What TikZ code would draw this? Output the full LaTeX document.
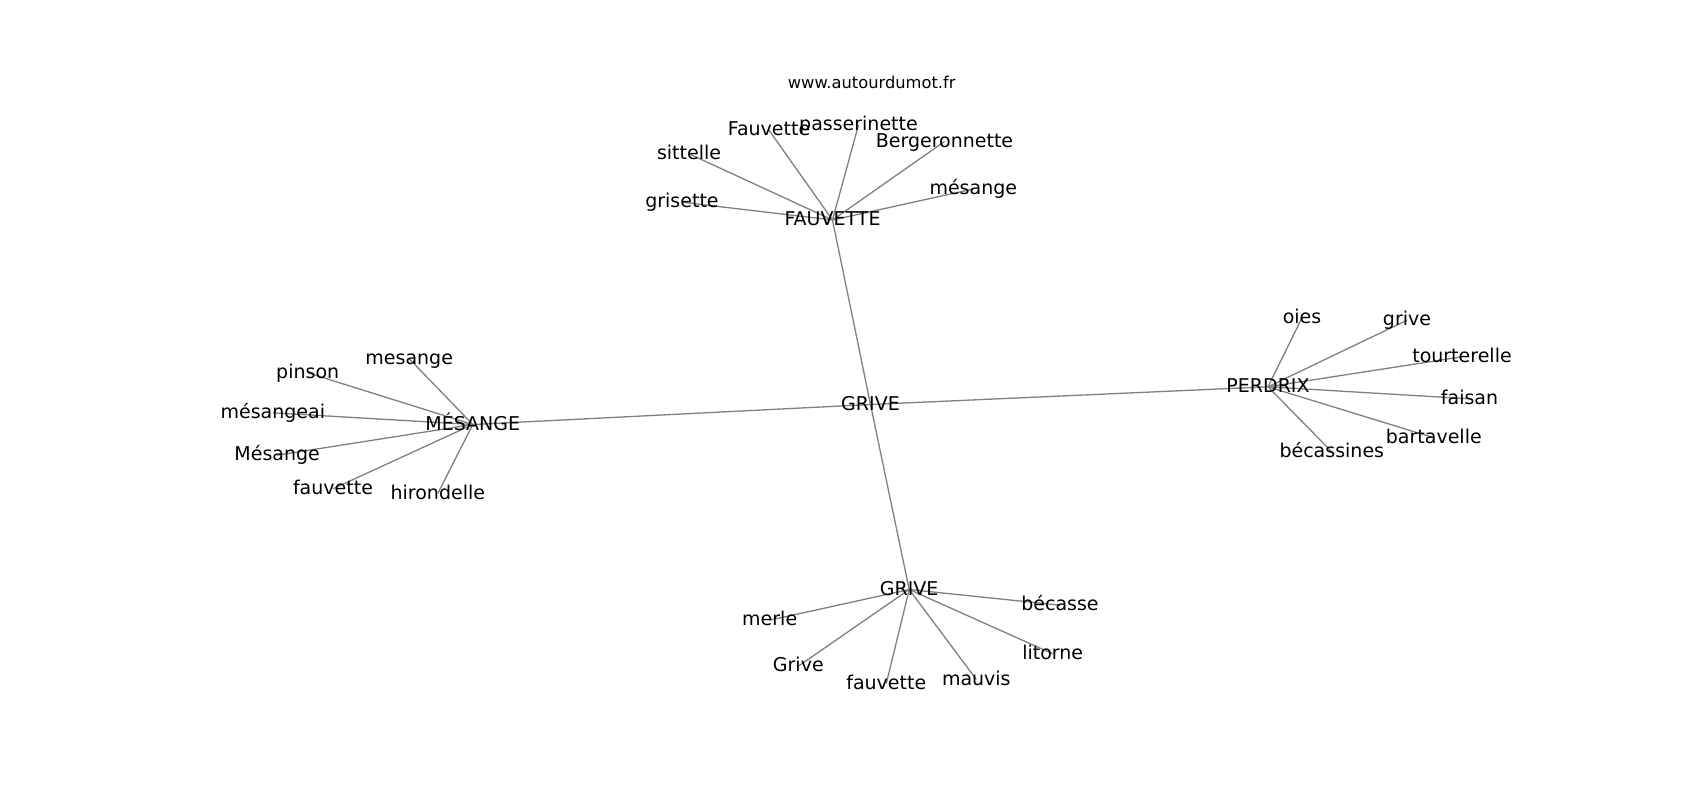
\documentclass[tikz,border=0pt]{standalone}
\usepackage{fontspec}
\setmainfont{DejaVu Sans}
\usetikzlibrary{backgrounds}
\tikzset{
  word/.style={font=\fontsize{19}{22}\selectfont, anchor=base, inner sep=0pt, outer sep=0pt, text=black},
  titletext/.style={font=\fontsize{16.3}{19}\selectfont, anchor=base, inner sep=0pt, text=black},
  link/.style={draw=gray, line width=1.3pt},
}
\newcommand{\hubto}[2]{\foreach \l in {#2} {\draw[link] ([yshift=5.5pt]#1.base) -- ([yshift=5.5pt]\l.base);}}
\begin{document}
\begin{tikzpicture}[x=1pt,y=-1pt]
\useasboundingbox (0,0) rectangle (1700,800);

\node[titletext] (title) at (871.7,88.3) {www.autourdumot.fr};

% centre
\node[word] (g) at (870.5,410) {GRIVE};

% FAUVETTE cluster
\node[word] (fa) at (832.5,225.5) {FAUVETTE};
\node[word] (fa1) at (682,207.7) {grisette};
\node[word] (fa2) at (689,159.3) {sittelle};
\node[word] (fa3) at (769,135.7) {Fauvette};
\node[word] (fa4) at (858.5,130.5) {passerinette};
\node[word] (fa5) at (944.5,147) {Bergeronnette};
\node[word] (fa6) at (973.3,194.5) {mésange};

% MESANGE cluster
\node[word] (me) at (472.8,430) {MÉSANGE};
\node[word] (me1) at (409.2,364.3) {mesange};
\node[word] (me2) at (307.7,378.3) {pinson};
\node[word] (me3) at (272.8,418.3) {mésangeai};
\node[word] (me4) at (277.2,460.7) {Mésange};
\node[word] (me5) at (333,494.3) {fauvette};
\node[word] (me6) at (437.8,499) {hirondelle};

% PERDRIX cluster
\node[word] (pe) at (1268,392.3) {PERDRIX};
\node[word] (pe1) at (1302,323.3) {oies};
\node[word] (pe2) at (1407,325.7) {grive};
\node[word] (pe3) at (1462,362.3) {tourterelle};
\node[word] (pe4) at (1469.5,404.3) {faisan};
\node[word] (pe5) at (1433.8,443.3) {bartavelle};
\node[word] (pe6) at (1331.8,457.3) {bécassines};

% GRIVE cluster
\node[word] (gr) at (909.2,595) {GRIVE};
\node[word] (gr1) at (1060,610.7) {bécasse};
\node[word] (gr2) at (769.7,625.7) {merle};
\node[word] (gr3) at (798.3,671.7) {Grive};
\node[word] (gr4) at (886.3,689) {fauvette};
\node[word] (gr5) at (976.3,685) {mauvis};
\node[word] (gr6) at (1052.7,659.3) {litorne};

\begin{pgfonlayer}{background}
\fill[white] (0,0) rectangle (1700,800);
\hubto{g}{fa,me,pe,gr}
\hubto{fa}{fa1,fa2,fa3,fa4,fa5,fa6}
\hubto{me}{me1,me2,me3,me4,me5,me6}
\hubto{pe}{pe1,pe2,pe3,pe4,pe5,pe6}
\hubto{gr}{gr1,gr2,gr3,gr4,gr5,gr6}
\end{pgfonlayer}
\end{tikzpicture}
\end{document}
